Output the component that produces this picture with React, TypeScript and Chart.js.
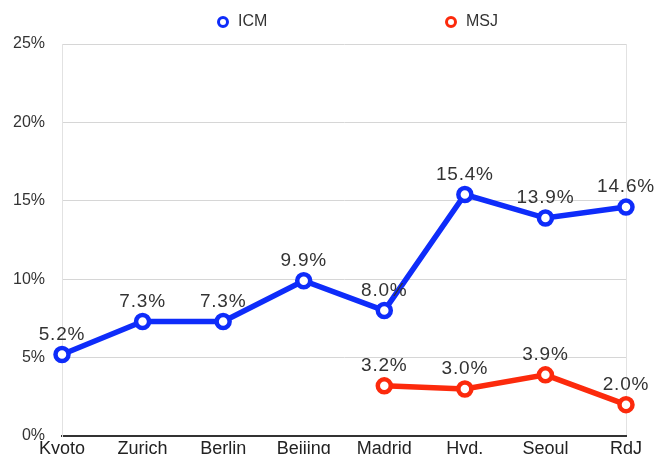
import React, { useEffect, useRef } from "react";
import { Chart, registerables } from "chart.js";

Chart.register(...registerables);

const categories = ["Kyoto", "Zurich", "Berlin", "Beijing", "Madrid", "Hyd.", "Seoul", "RdJ"];
const icmValues = [5.2, 7.3, 7.3, 9.9, 8.0, 15.4, 13.9, 14.6];
const msjValues = [null, null, null, null, 3.2, 3.0, 3.9, 2.0];
const yTicks = [0, 5, 10, 15, 20, 25];

const BLUE = "rgb(14, 44, 250)";
const RED = "rgb(252, 42, 12)";
const FONT = "'Liberation Sans', Arial, Helvetica, sans-serif";

const dataLabelPlugin = {
  id: "dataLabels",
  afterDatasetsDraw(chart: any) {
    const ctx = chart.ctx;
    ctx.save();
    ctx.font = `19px ${FONT}`;
    try {
      (ctx as any).letterSpacing = "0.8px";
    } catch (e) {}
    ctx.fillStyle = "#333";
    ctx.textAlign = "center";
    ctx.textBaseline = "middle";
    chart.data.datasets.forEach((ds: any, i: number) => {
      const meta = chart.getDatasetMeta(i);
      meta.data.forEach((pt: any, j: number) => {
        const v = ds.data[j];
        if (v === null || v === undefined) return;
        ctx.fillText(v.toFixed(1) + "%", pt.x, pt.y - 20);
      });
    });
    ctx.restore();
  },
};

const legendPlugin = {
  id: "customLegend",
  afterDraw(chart: any) {
    const ctx = chart.ctx;
    const items = [
      { label: "ICM", color: BLUE, x: 223 },
      { label: "MSJ", color: RED, x: 451 },
    ];
    ctx.save();
    ctx.font = `16px ${FONT}`;
    ctx.textBaseline = "middle";
    ctx.textAlign = "left";
    items.forEach((it) => {
      ctx.beginPath();
      ctx.arc(it.x, 22, 4.5, 0, Math.PI * 2);
      ctx.fillStyle = "#fff";
      ctx.fill();
      ctx.lineWidth = 3;
      ctx.strokeStyle = it.color;
      ctx.stroke();
      ctx.fillStyle = "#333";
      ctx.fillText(it.label, it.x + 15, 22);
    });
    ctx.restore();
  },
};

export default function App() {
  const ref = useRef<HTMLCanvasElement>(null);
  useEffect(() => {
    if (!ref.current) return;
    const pointStyle = (color: string) => ({
      borderColor: color,
      backgroundColor: color,
      borderWidth: 5.5,
      pointRadius: 6.5,
      pointBorderWidth: 4.5,
      pointBackgroundColor: "#fff",
      pointBorderColor: color,
      tension: 0,
      spanGaps: false,
    });
    const chart = new Chart(ref.current, {
      type: "line",
      data: {
        labels: categories,
        datasets: [
          { label: "ICM", data: icmValues, ...pointStyle(BLUE) },
          { label: "MSJ", data: msjValues as any, ...pointStyle(RED) },
        ],
      },
      options: {
        animation: false,
        responsive: false,
        maintainAspectRatio: false,
        layout: { padding: { top: 44, left: 0, right: 28, bottom: 0 } },
        plugins: {
          legend: { display: false },
          tooltip: { enabled: false },
        },
        scales: {
          x: {
            offset: false,
            afterFit(scale: any) {
              scale.height = 18;
            },
            grid: {
              display: true,
              drawTicks: false,
              color: (c: any) =>
                c.index === 0 || c.index === categories.length - 1 ? "#e2e2e2" : "rgba(0,0,0,0)",
            },
            border: { display: true, color: "#333", width: 2 },
            ticks: {
              padding: 2,
              color: "#222",
              font: { family: FONT, size: 18 },
              maxRotation: 0,
              autoSkip: false,
            },
          },
          y: {
            min: 0,
            max: 25,
            afterFit(scale: any) {
              scale.width = 62;
              scale.paddingTop = 10;
              scale.paddingBottom = 0;
            },
            afterBuildTicks(scale: any) {
              scale.ticks = yTicks.map((v) => ({ value: v }));
            },
            grid: { color: "#d6d6d6", lineWidth: 1, drawTicks: false },
            border: { display: true, color: "#e2e2e2", width: 1 },
            ticks: {
              padding: 17,
              color: "#333",
              font: { family: FONT, size: 16 },
              callback: (v: any) => v + "%",
            },
          },
        },
      },
      plugins: [dataLabelPlugin, legendPlugin],
    });
    return () => chart.destroy();
  }, []);
  return (
    <div style={{ position: "absolute", left: 0, top: 0, width: 654, height: 454, background: "#fff" }}>
      <canvas ref={ref} width={654} height={454} style={{ width: 654, height: 454, display: "block" }} />
    </div>
  );
}
